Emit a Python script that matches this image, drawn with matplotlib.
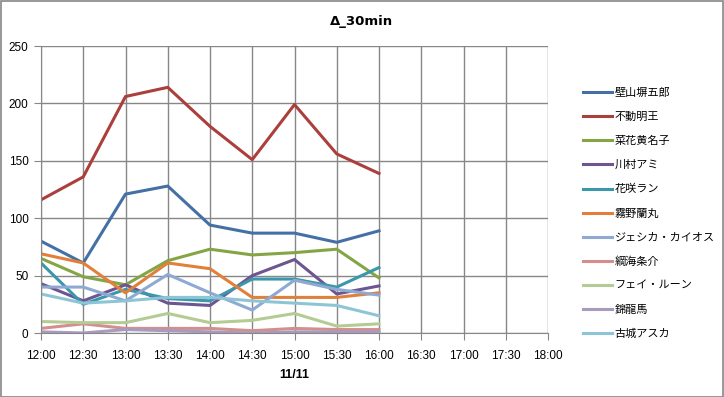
import matplotlib
matplotlib.use("Agg")
import matplotlib.pyplot as plt
from matplotlib.patches import Rectangle

plt.rcParams['font.family'] = ['Noto Sans CJK JP', 'DejaVu Sans']

times = ["12:00", "12:30", "13:00", "13:30", "14:00", "14:30", "15:00",
         "15:30", "16:00", "16:30", "17:00", "17:30", "18:00"]

names = ["壁山塀五郎", "不動明王", "菜花黄名子", "川村アミ", "花咲ラン", "霧野蘭丸",
         "ジェシカ・カイオス", "綱海条介", "フェイ・ルーン", "錦龍馬", "古城アスカ"]

# values only exist for 12:00 .. 16:00
kabeyama = [80, 61, 121, 128, 94, 87, 87, 79, 89]
fudou = [116, 136, 206, 214, 180, 151, 199, 156, 139]
nanohana = [65, 49, 42, 63, 73, 68, 70, 73, 48]
kawamura = [43, 28, 42, 26, 24, 50, 64, 34, 41]
hanasaki = [61, 25, 38, 30, 28, 47, 47, 40, 57]
kirino = [69, 61, 35, 61, 56, 31, 31, 31, 35]
jessica = [40, 40, 28, 51, 35, 20, 46, 38, 33]
tsunami = [4, 8, 4, 4, 4, 2, 4, 3, 3]
fei = [10, 9, 9, 17, 9, 11, 17, 6, 8]
nishiki = [1, 0, 3, 2, 1, 0, 1, 1, 1]
kojou = [34, 26, 28, 31, 31, 28, 26, 24, 15]

series = [kabeyama, fudou, nanohana, kawamura, hanasaki, kirino,
          jessica, tsunami, fei, nishiki, kojou]
colors = ["#4470a5", "#ab3f3c", "#84a544", "#6d5592", "#3b97ab", "#e0803a",
          "#8eaad2", "#d38f8d", "#b4cc93", "#a99bbf", "#8ec5d6"]

W, H = 724, 397
fig = plt.figure(figsize=(W / 100, H / 100), dpi=100)
fig.patches.append(Rectangle((0.5 / W, 0.5 / H), 1 - 1.5 / W, 1 - 1.5 / H,
                             transform=fig.transFigure, fill=False,
                             edgecolor="#868686", linewidth=1.2))

ax = fig.add_axes([41 / W, (H - 333) / H, (548 - 41) / W, (333 - 46) / H])
x = list(range(len(times)))
for vals, col, name in zip(series, colors, names):
    ax.plot(x[:len(vals)], vals, color=col, linewidth=2.2, label=name,
            solid_joinstyle="round")

ax.set_xlim(0, len(times) - 1)
ax.set_ylim(0, 250)
ax.set_xticks(x)
ax.set_xticklabels(times, fontsize=8.5, family=["Liberation Sans", "DejaVu Sans"])
ax.set_yticks(range(0, 251, 50))
ax.set_yticklabels([str(v) for v in range(0, 251, 50)], fontsize=8.5,
                   family=["Liberation Sans", "DejaVu Sans"])
ax.grid(True, color="#878787", linewidth=1)
ax.set_axisbelow(True)
for s in ["top", "right"]:
    ax.spines[s].set_visible(False)
for s in ["left", "bottom"]:
    ax.spines[s].set_color("#878787")
ax.tick_params(axis="y", length=5, color="#878787", pad=4)
ax.tick_params(axis="x", length=5, color="#878787", pad=7)
ax.set_xlabel("11/11", fontsize=9, fontweight="bold", labelpad=5,
              family=["Liberation Sans", "DejaVu Sans"])
fig.text(0.5, (H - 22) / H, "Δ_30min", ha="center", va="center",
         fontsize=9.5, fontweight="bold", family=["DejaVu Sans"])

leg = fig.legend(loc="upper left", bbox_to_anchor=(573 / W, (H - 78) / H),
                 frameon=False, fontsize=8, handlelength=2.6,
                 handletextpad=0.25, labelspacing=1.25)

fig.savefig("out.png", dpi=100)
